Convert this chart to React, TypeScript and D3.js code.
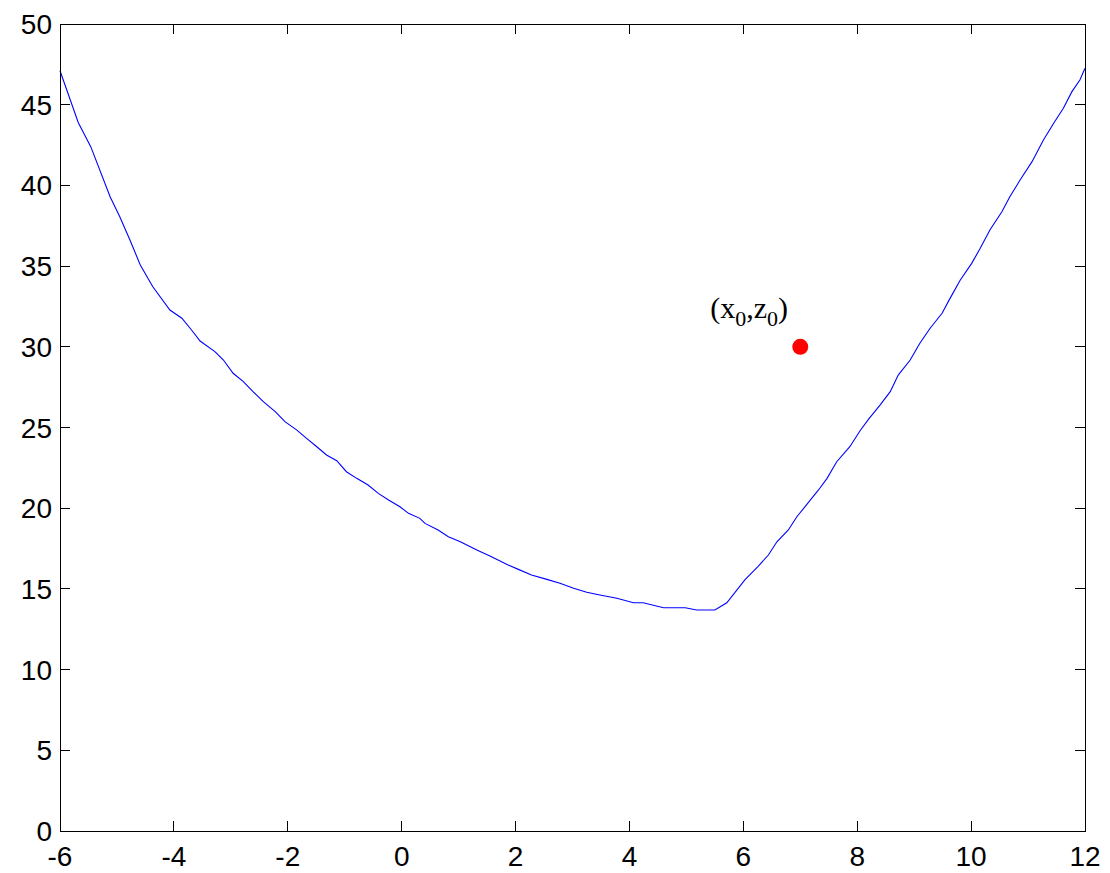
import React from "react";
import * as d3 from "d3";

const xValues = [
  -6.0, -5.68, -5.46, -5.12, -4.95, -4.77, -4.59, -4.37, -4.07, -3.86, -3.69,
  -3.54, -3.28, -3.13, -2.96, -2.78, -2.61, -2.43, -2.22, -2.05, -1.84, -1.67,
  -1.49, -1.32, -1.14, -0.97, -0.79, -0.59, -0.41, -0.23, -0.03, 0.12, 0.32,
  0.41, 0.64, 0.82, 1.03, 1.32, 1.55, 1.87, 2.05, 2.28, 2.55, 2.78, 3.02, 3.25,
  3.48, 3.78, 4.07, 4.24, 4.6, 4.98, 5.18, 5.5, 5.71, 6.03, 6.26, 6.44, 6.59,
  6.79, 6.94, 7.14, 7.32, 7.47, 7.64, 7.87, 8.05, 8.2, 8.4, 8.58, 8.72, 8.93,
  9.1, 9.28, 9.49, 9.63, 9.81, 10.01, 10.16, 10.33, 10.54, 10.68, 10.86, 11.07,
  11.27, 11.45, 11.62, 11.77, 11.91, 12.0,
];
const zValues = [
  47.1, 43.9, 42.4, 39.3, 38.06, 36.6, 35.07, 33.72, 32.28, 31.77, 31.04,
  30.36, 29.7, 29.18, 28.36, 27.84, 27.22, 26.6, 25.98, 25.36, 24.84, 24.33,
  23.81, 23.3, 22.94, 22.26, 21.85, 21.44, 20.92, 20.51, 20.09, 19.68, 19.37,
  19.06, 18.65, 18.23, 17.92, 17.41, 17.04, 16.48, 16.21, 15.86, 15.59, 15.35,
  15.04, 14.79, 14.62, 14.42, 14.14, 14.14, 13.83, 13.83, 13.69, 13.69, 14.14,
  15.58, 16.4, 17.1, 17.92, 18.65, 19.47, 20.34, 21.13, 21.85, 22.88, 23.81,
  24.8, 25.52, 26.39, 27.22, 28.25, 29.18, 30.22, 31.15, 32.08, 33.0, 34.14,
  35.17, 36.1, 37.24, 38.37, 39.3, 40.33, 41.47, 42.81, 43.85, 44.78, 45.81,
  46.53, 47.26,
];
const xTicks = [-6, -4, -2, 0, 2, 4, 6, 8, 10, 12];
const yTicks = [0, 5, 10, 15, 20, 25, 30, 35, 40, 45, 50];
const pointX = [7];
const pointZ = [30];

const W = 1110;
const H = 873;
const left = 60;
const right = 1085;
const top = 24;
const bottom = 831;

export default function App() {
  const x = d3.scaleLinear().domain([-6, 12]).range([left, right]);
  const y = d3.scaleLinear().domain([0, 50]).range([bottom, top]);
  const line = d3
    .line<number>()
    .x((_, i) => x(xValues[i]))
    .y((d) => y(d));
  const tickLen = 10;
  const font = "'Liberation Sans', Arial, Helvetica, sans-serif";
  return (
    <svg
      width={W}
      height={H}
      style={{ position: "absolute", left: 0, top: 0, background: "#fff" }}
    >
      <rect x={0} y={0} width={W} height={H} fill="#fff" />
      <path d={line(zValues) || ""} fill="none" stroke="#0000ff" strokeWidth={1.1} />
      {pointX.map((px, i) => (
        <circle key={i} cx={x(px)} cy={y(pointZ[i])} r={8} fill="#ff0000" />
      ))}
      <text
        x={x(pointX[0]) - 90}
        y={y(pointZ[0]) - 29}
        fontFamily="'Liberation Serif', 'Times New Roman', serif"
        fontSize={30}
        fill="#000"
      >
        (x<tspan fontSize={22} dy={8}>0</tspan>
        <tspan dy={-8}>,z</tspan>
        <tspan fontSize={22} dy={8}>0</tspan>
        <tspan dy={-8}>)</tspan>
      </text>
      <g stroke="#000" strokeWidth={1} shapeRendering="crispEdges">
        {xTicks.map((t) => (
          <g key={"x" + t}>
            <line x1={x(t)} x2={x(t)} y1={bottom} y2={bottom - tickLen} />
            <line x1={x(t)} x2={x(t)} y1={top} y2={top + tickLen} />
          </g>
        ))}
        {yTicks.map((t) => (
          <g key={"y" + t}>
            <line x1={left} x2={left + tickLen} y1={y(t)} y2={y(t)} />
            <line x1={right} x2={right - tickLen} y1={y(t)} y2={y(t)} />
          </g>
        ))}
        <rect x={left} y={top} width={right - left} height={bottom - top} fill="none" />
      </g>
      <g fontFamily={font} fontSize={28} fill="#000">
        {xTicks.map((t) => (
          <text key={"xl" + t} x={x(t)} y={866} textAnchor="middle">
            {t}
          </text>
        ))}
        {yTicks.map((t) => (
          <text key={"yl" + t} x={52} y={y(t) + 10} textAnchor="end">
            {t}
          </text>
        ))}
      </g>
    </svg>
  );
}
